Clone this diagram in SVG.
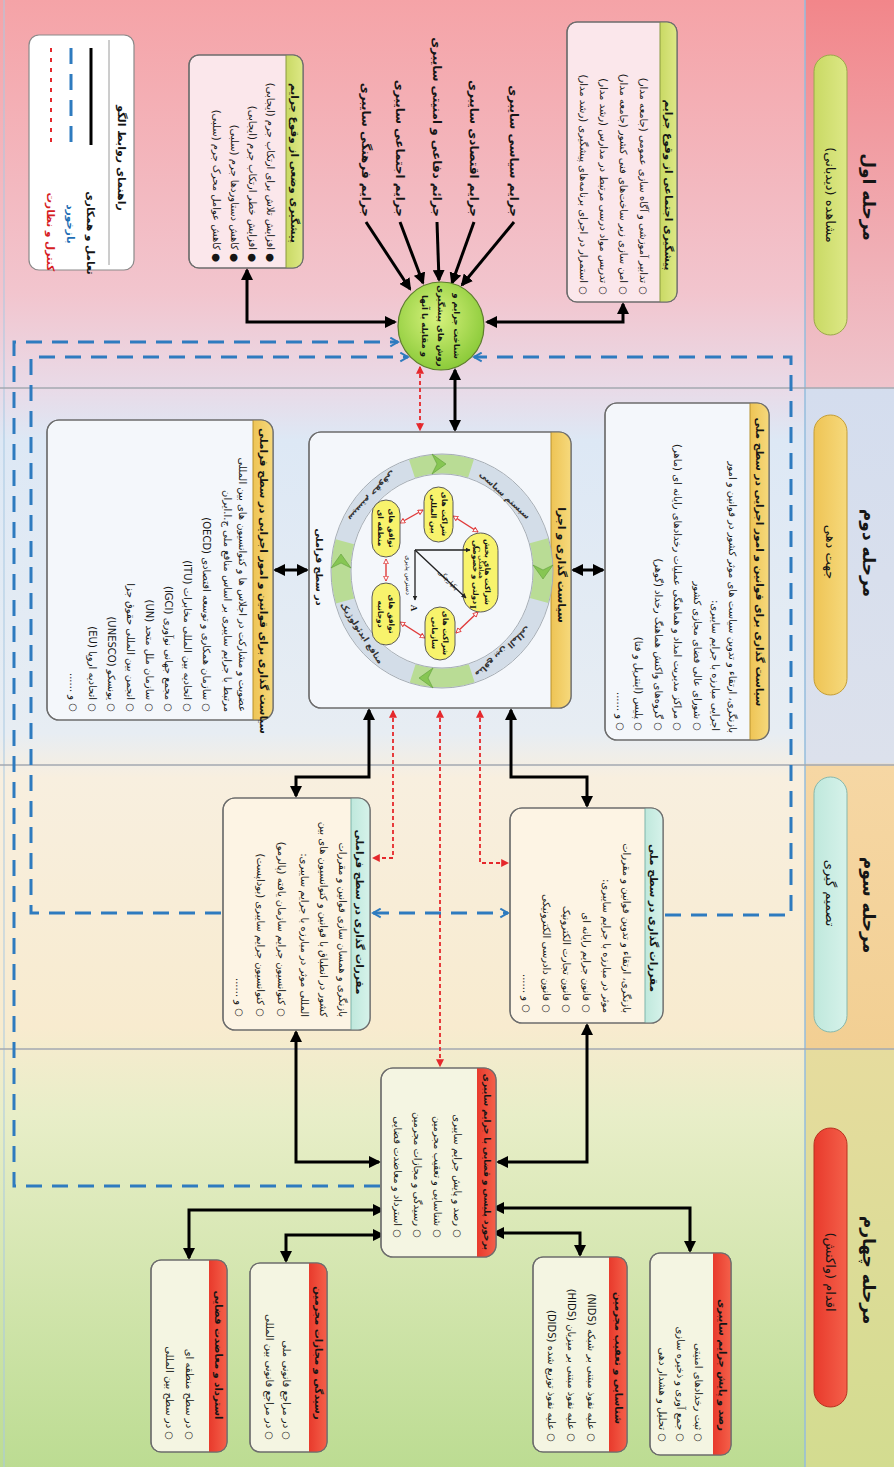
<svg xmlns="http://www.w3.org/2000/svg" width="894" height="1467" viewBox="0 0 894 1467">
<defs>
<linearGradient id="bg" x1="0" y1="0" x2="0" y2="1467" gradientUnits="userSpaceOnUse">
<stop offset="0" stop-color="#f5a3a7"/><stop offset="0.2" stop-color="#f2c5ce"/><stop offset="0.264" stop-color="#e9dae7"/><stop offset="0.3" stop-color="#dde8f5"/><stop offset="0.5" stop-color="#e7edf3"/><stop offset="0.53" stop-color="#f8efdf"/><stop offset="0.7" stop-color="#f8ebcf"/><stop offset="0.76" stop-color="#e8eec8"/><stop offset="1" stop-color="#bcdc92"/>
</linearGradient>
<linearGradient id="hd" x1="0" y1="0" x2="0" y2="1467" gradientUnits="userSpaceOnUse">
<stop offset="0" stop-color="#f2868a"/><stop offset="0.264" stop-color="#efc4cc"/><stop offset="0.265" stop-color="#d4ddee"/><stop offset="0.52" stop-color="#dce1ec"/><stop offset="0.522" stop-color="#f6d7a4"/><stop offset="0.714" stop-color="#f2cf93"/><stop offset="0.716" stop-color="#e6dc9e"/><stop offset="1" stop-color="#d3dc90"/>
</linearGradient>
<radialGradient id="cg" cx="0.45" cy="0.4" r="0.6"><stop offset="0" stop-color="#d8f27e"/><stop offset="1" stop-color="#8ccb3a"/></radialGradient>
<linearGradient id="p1" x1="0" y1="0" x2="1" y2="0"><stop offset="0" stop-color="#c9d964"/><stop offset="1" stop-color="#dde886"/></linearGradient>
<linearGradient id="p2" x1="0" y1="0" x2="1" y2="0"><stop offset="0" stop-color="#eec455"/><stop offset="1" stop-color="#f6d97c"/></linearGradient>
<linearGradient id="p3" x1="0" y1="0" x2="1" y2="0"><stop offset="0" stop-color="#bfe8dc"/><stop offset="1" stop-color="#d6f2ea"/></linearGradient>
<linearGradient id="p4" x1="0" y1="0" x2="1" y2="0"><stop offset="0" stop-color="#e83a2c"/><stop offset="1" stop-color="#f4604a"/></linearGradient>
<marker id="ab" viewBox="0 0 12 12" refX="10" refY="6" markerWidth="12" markerHeight="12" markerUnits="userSpaceOnUse" orient="auto-start-reverse"><path d="M0,0 L12,6 L0,12 z" fill="#000"/></marker>
<marker id="rr" viewBox="0 0 10 10" refX="8.5" refY="5" markerWidth="8" markerHeight="8" markerUnits="userSpaceOnUse" orient="auto-start-reverse"><path d="M0,0 L10,5 L0,10 z" fill="#e5282c"/></marker>
<marker id="bb" viewBox="0 0 10 10" refX="8.5" refY="5" markerWidth="11" markerHeight="11" markerUnits="userSpaceOnUse" orient="auto-start-reverse"><path d="M1.5,1 L8.5,5 L1.5,9" fill="none" stroke="#2e7bbf" stroke-width="1.8"/></marker>
<marker id="ra" viewBox="0 0 10 10" refX="9" refY="5" markerWidth="6" markerHeight="6" markerUnits="userSpaceOnUse" orient="auto-start-reverse"><path d="M1,1 L9,5 L1,9 z" fill="#fff" stroke="#e03a3a" stroke-width="1.5"/></marker>
<marker id="ka" viewBox="0 0 10 10" refX="9" refY="5" markerWidth="5" markerHeight="5" markerUnits="userSpaceOnUse" orient="auto"><path d="M0,0 L10,5 L0,10 z" fill="#222"/></marker>
</defs>
<style>
.t{font-family:'DejaVu Sans',sans-serif;fill:#151515;dominant-baseline:central}
.r{direction:rtl;text-anchor:start}
.m{text-anchor:middle}
.b{font-weight:bold}
.box{stroke:#6d6d6d;stroke-width:1.2}
.ol{fill:none;stroke:#6d6d6d;stroke-width:1.2}
.k{fill:none;stroke:#000;stroke-width:3;marker-start:url(#ab);marker-end:url(#ab)}
.k1{fill:none;stroke:#000;stroke-width:3;marker-end:url(#ab)}
.rd{fill:none;stroke:#e5282c;stroke-width:1.8;stroke-dasharray:4 3;marker-start:url(#rr);marker-end:url(#rr)}
.bl{fill:none;stroke:#2e7bbf;stroke-width:3;stroke-dasharray:16 10;marker-end:url(#bb)}
.pl{fill:#f8f36c;stroke:#5a5a5a;stroke-width:1}
.ra{fill:none;stroke:#e03a3a;stroke-width:1.4;marker-start:url(#ra);marker-end:url(#ra)}
.chev{fill:#86c653;stroke:#5f9e3a;stroke-width:0.6}
</style>

<g id="background">
<rect x="0" y="0" width="894" height="1467" fill="url(#bg)"/>
<rect x="805" y="0" width="89" height="1467" fill="url(#hd)"/>
<line x1="805" y1="0" x2="805" y2="1467" stroke="#94bcdc" stroke-width="1.5"/>
<line x1="4" y1="0" x2="4" y2="1467" stroke="#a9c9e2" stroke-width="1"/>
<g stroke="#a3a9b0" stroke-width="1.5">
<line x1="0" y1="388" x2="894" y2="388"/>
<line x1="0" y1="765" x2="894" y2="765"/>
<line x1="0" y1="1049" x2="894" y2="1049"/>
</g>
</g>

<g id="stage1-header">
<text class="t m b" font-size="17" transform="translate(869,197) rotate(90)">مرحله اول</text>
<rect x="814" y="55" width="33" height="280" rx="16.5" fill="url(#p1)" stroke="#9aa84a"/>
<text class="t m" font-size="13" transform="translate(830,195) rotate(90)">مشاهده (دیدبانی)</text>
</g>
<g id="stage2-header">
<text class="t m b" font-size="17" transform="translate(869,553) rotate(90)">مرحله دوم</text>
<rect x="814" y="415" width="33" height="280" rx="16.5" fill="url(#p2)" stroke="#c49d35"/>
<text class="t m" font-size="13" transform="translate(830,552) rotate(90)">جهت دهی</text>
</g>
<g id="stage3-header">
<text class="t m b" font-size="17" transform="translate(869,905) rotate(90)">مرحله سوم</text>
<rect x="814" y="777" width="33" height="255" rx="16.5" fill="url(#p3)" stroke="#86b8ad"/>
<text class="t m" font-size="13" transform="translate(830,893) rotate(90)">تصمیم گیری</text>
</g>
<g id="stage4-header">
<text class="t m b" font-size="17" transform="translate(869,1270) rotate(90)">مرحله چهارم</text>
<rect x="814" y="1128" width="33" height="279" rx="16.5" fill="url(#p4)" stroke="#b8301f"/>
<text class="t m" font-size="13" transform="translate(830,1272) rotate(90)">اقدام (واکنش)</text>
</g>

<g id="connectors">
<path class="k" d="M623,304 V322 H487"/>
<path class="k" d="M247,270 V322 H395"/>
<path class="k1" d="M514,222 L462,285"/>
<path class="k1" d="M474,222 L452,283"/>
<path class="k1" d="M437,222 L439,280"/>
<path class="k1" d="M400,222 L423,283"/>
<path class="k1" d="M366,222 L410,289"/>
<path class="k" d="M455,370 V430"/>
<path class="k" d="M573,570 H603"/>
<path class="k" d="M275,570 H307"/>
<path class="k" d="M369,710 V777 H296 V796"/>
<path class="k" d="M511,710 V777 H587 V806"/>
<path class="k" d="M296,1032 V1162 H379"/>
<path class="k" d="M587,1025 V1162 H498"/>
<path class="k" d="M383,1210 H189 V1258"/>
<path class="k" d="M383,1235 H286 V1261"/>
<path class="k" d="M494,1208 H690 V1251"/>
<path class="k" d="M494,1233 H580 V1255"/>
<path class="rd" d="M420,367 V430"/>
<path class="rd" d="M393,711 V858 H373"/>
<path class="rd" d="M480,711 V863 H508"/>
<path class="rd" d="M440,711 V1066"/>
<path class="bl" d="M380,1186 H14 V342 H398"/>
<path class="bl" d="M221,913 H31 V357 H408"/>
<path class="bl" d="M665,915 H791 V357 H474"/>
<path class="bl" style="marker-start:url(#bb)" d="M373,913 H508"/>
</g>

<g id="legend">
<rect x="29" y="35" width="105" height="235" rx="10" fill="#fff" stroke="#8a8a8a" stroke-width="1.2"/>
<line x1="109" y1="40" x2="109" y2="265" stroke="#9a9a9a" stroke-width="1"/>
<text class="t m b" font-size="11" transform="translate(121,158) rotate(90)">راهنمای روابط الگو</text>
<line x1="91" y1="48" x2="91" y2="145" stroke="#000" stroke-width="3"/>
<line x1="71" y1="48" x2="71" y2="145" stroke="#2e7bbf" stroke-width="3" stroke-dasharray="16 10"/>
<line x1="51" y1="48" x2="51" y2="145" stroke="#e5282c" stroke-width="2" stroke-dasharray="4 6"/>
<text class="t m b" font-size="10.5" transform="translate(91,233) rotate(90)">تعامل و همکاری</text>
<text class="t m b" font-size="10.5" style="fill:#1f6fb5" transform="translate(71,224) rotate(90)">بازخورد</text>
<text class="t m b" font-size="10.5" style="fill:#d6201f" transform="translate(51,232) rotate(90)">کنترل و نظارت</text>
</g>

<g id="social-prevention">
<rect class="box" x="567" y="22" width="110" height="280" rx="10" fill="#fbe7eb"/>
<path d="M660,22 H667 A10,10 0 0 1 677,32 V292 A10,10 0 0 1 667,302 H660 Z" fill="url(#p1)"/>
<line x1="660" y1="22" x2="660" y2="302" stroke="#8a9a40" stroke-width="1"/>
<rect class="ol" x="567" y="22" width="110" height="280" rx="10"/>
<text class="t m b" font-size="10.5" transform="translate(669,185) rotate(90)">پیشگیری اجتماعی از وقوع جرایم</text>
<text class="t r" font-size="10" transform="translate(643,295) rotate(90)">○ تدابیر آموزشی و آگاه سازی عمومی (جامعه مدار)</text>
<text class="t r" font-size="10" transform="translate(623,295) rotate(90)">○ امن سازی زیر ساخت‌های فنی کشور (جامعه مدار)</text>
<text class="t r" font-size="10" transform="translate(603,295) rotate(90)">○ تدریس مواد درسی مرتبط در مدارس (رشد مدار)</text>
<text class="t r" font-size="10" transform="translate(583,295) rotate(90)">○ استمرار در اجرای برنامه‌های پیشگیری (رشد مدار)</text>
</g>

<g id="situational-prevention">
<rect class="box" x="189" y="55" width="114" height="213" rx="10" fill="#fbe7eb"/>
<path d="M286,55 H293 A10,10 0 0 1 303,65 V258 A10,10 0 0 1 293,268 H286 Z" fill="url(#p1)"/>
<line x1="286" y1="55" x2="286" y2="268" stroke="#8a9a40" stroke-width="1"/>
<rect class="ol" x="189" y="55" width="114" height="213" rx="10"/>
<text class="t m b" font-size="10.5" transform="translate(295,163) rotate(90)">پیشگیری وضعی از وقوع جرایم</text>
<text class="t r" font-size="10" transform="translate(270,262) rotate(90)">● افزایش تلاش برای ارتکاب جرم (ایجابی)</text>
<text class="t r" font-size="10" transform="translate(252,262) rotate(90)">● افزایش خطر ارتکاب جرم (ایجابی)</text>
<text class="t r" font-size="10" transform="translate(234,262) rotate(90)">● کاهش دستاوردها جرم (سلبی)</text>
<text class="t r" font-size="10" transform="translate(216,262) rotate(90)">● کاهش عوامل محرک جرم (سلبی)</text>
</g>

<g id="crime-labels">
<text class="t r b" font-size="12" transform="translate(514,217) rotate(90)">جرایم سیاسی سایبری</text>
<text class="t r b" font-size="12" transform="translate(474,217) rotate(90)">جرایم اقتصادی سایبری</text>
<text class="t r b" font-size="12" transform="translate(437,217) rotate(90)">جرائم دفاعی و امنیتی سایبری</text>
<text class="t r b" font-size="12" transform="translate(400,217) rotate(90)">جرایم اجتماعی سایبری</text>
<text class="t r b" font-size="12" transform="translate(366,217) rotate(90)">جرایم فرهنگی سایبری</text>
</g>

<g id="recognition-circle">
<ellipse cx="441" cy="326" rx="43" ry="44" fill="url(#cg)" stroke="#5d7d2c" stroke-width="1.2"/>
<text class="t m b" font-size="8.5" transform="translate(457,326) rotate(90)">شناخت جرایم و</text>
<text class="t m b" font-size="8.5" transform="translate(441,326) rotate(90)">روش های پیشگیری</text>
<text class="t m b" font-size="8.5" transform="translate(425,326) rotate(90)">و مقابله با آنها</text>
</g>

<g id="national-policy">
<rect class="box" x="605" y="403" width="164" height="337" rx="12" fill="#f4f7fb"/>
<path d="M750,403 H757 A12,12 0 0 1 769,415 V728 A12,12 0 0 1 757,740 H750 Z" fill="url(#p2)"/>
<line x1="750" y1="403" x2="750" y2="740" stroke="#b8922e" stroke-width="1"/>
<rect class="ol" x="605" y="403" width="164" height="337" rx="12"/>
<text class="t m b" font-size="10.5" transform="translate(760,562) rotate(90)">سیاست گذاری برای قوانین و امور اجرایی در سطح ملی</text>
<text class="t r" font-size="10" transform="translate(732,733) rotate(90)">بازنگری، ارتقاء و تدوین سیاست های موثر کشور در قوانین و امور</text>
<text class="t r" font-size="10" transform="translate(715,731) rotate(90)">اجرایی مبارزه با جرایم سایبری:</text>
<text class="t r" font-size="10" transform="translate(697,731) rotate(90)">○ شورای عالی فضای مجازی کشور</text>
<text class="t r" font-size="10" transform="translate(677,731) rotate(90)">○ مراکز مدیریت امداد و هماهنگی عملیات رخدادهای رایانه ای (ماهر)</text>
<text class="t r" font-size="10" transform="translate(658,731) rotate(90)">○ گروه‌های واکنش هماهنگ رخداد (گوهر)</text>
<text class="t r" font-size="10" transform="translate(638,731) rotate(90)">○ پلیس (اینترپل و فتا)</text>
<text class="t r" font-size="10" transform="translate(620,731) rotate(90)">○ و ......</text>
</g>

<g id="transnational-policy">
<rect class="box" x="47" y="420" width="226" height="300" rx="12" fill="#f4f7fb"/>
<path d="M253,420 H261 A12,12 0 0 1 273,432 V708 A12,12 0 0 1 261,720 H253 Z" fill="url(#p2)"/>
<line x1="253" y1="420" x2="253" y2="720" stroke="#b8922e" stroke-width="1"/>
<rect class="ol" x="47" y="420" width="226" height="300" rx="12"/>
<text class="t m b" font-size="10.5" transform="translate(264,581) rotate(90)">سیاست گذاری برای قوانین و امور اجرایی در سطح فراملی</text>
<text class="t r" font-size="10" transform="translate(242,712) rotate(90)">عضویت و مشارکت در اجلاس ها و کنوانسیون های بین المللی</text>
<text class="t r" font-size="10" transform="translate(227,712) rotate(90)">مرتبط با جرایم سایبری بر اساس منافع ملی ج.ا.ایران</text>
<text class="t r" font-size="10" transform="translate(206,712) rotate(90)">○ سازمان همکاری و توسعه اقتصادی (OECD)</text>
<text class="t r" font-size="10" transform="translate(187,712) rotate(90)">○ اتحادیه بین المللی مخابرات (ITU)</text>
<text class="t r" font-size="10" transform="translate(168,712) rotate(90)">○ مجمع جهانی نوآوری (IGCI)</text>
<text class="t r" font-size="10" transform="translate(149,712) rotate(90)">○ سازمان ملل متحد (UN)</text>
<text class="t r" font-size="10" transform="translate(130,712) rotate(90)">○ انجمن بین المللی حقوق جزا</text>
<text class="t r" font-size="10" transform="translate(111,712) rotate(90)">○ یونسکو (UNESCO)</text>
<text class="t r" font-size="10" transform="translate(92,712) rotate(90)">○ اتحادیه اروپا (EU)</text>
<text class="t r" font-size="10" transform="translate(73,712) rotate(90)">○ و ......</text>
</g>

<g id="policy-execution">
<rect class="box" x="309" y="432" width="262" height="276" rx="12" fill="#f4f7fb"/>
<path d="M551,432 H559 A12,12 0 0 1 571,444 V696 A12,12 0 0 1 559,708 H551 Z" fill="url(#p2)"/>
<line x1="551" y1="432" x2="551" y2="708" stroke="#b8922e" stroke-width="1"/>
<rect class="ol" x="309" y="432" width="262" height="276" rx="12"/>
<text class="t m b" font-size="11" transform="translate(561,565) rotate(90)">سیاست گذاری و اجرا</text>
<text class="t m b" font-size="9.5" transform="translate(540,565) rotate(90)">در سطح ملی</text>
<text class="t m b" font-size="9.5" transform="translate(319,567) rotate(90)">در سطح فراملی</text>
<ellipse cx="442" cy="571" rx="101" ry="107" fill="none" stroke="#d3dde8" stroke-width="19"/>
<ellipse cx="442" cy="571" rx="101" ry="107" fill="none" stroke="#b9dc95" stroke-width="19" stroke-dasharray="60 103" stroke-dashoffset="30"/>
<ellipse cx="442" cy="571" rx="111" ry="117" fill="none" stroke="#a5adb5" stroke-width="1"/>
<ellipse cx="442" cy="571" rx="91" ry="97" fill="none" stroke="#a5adb5" stroke-width="1"/>
<path class="chev" transform="translate(440,464)" d="M-8,-10 L6,0 L-8,10 L-3,0 Z"/>
<path class="chev" transform="translate(543,573) rotate(90)" d="M-8,-10 L6,0 L-8,10 L-3,0 Z"/>
<path class="chev" transform="translate(425,678) rotate(180)" d="M-8,-10 L6,0 L-8,10 L-3,0 Z"/>
<path class="chev" transform="translate(341,560) rotate(270)" d="M-8,-10 L6,0 L-8,10 L-3,0 Z"/>
<text class="t m b" font-size="8.5" style="fill:#333" transform="translate(505,495) rotate(43)">سیستم سیاسی</text>
<text class="t m b" font-size="8.5" style="fill:#333" transform="translate(503,652) rotate(138)">منافع بین المللی</text>
<text class="t m b" font-size="8.5" style="fill:#333" transform="translate(362,633) rotate(57)">منافع ایدئولوژیک</text>
<text class="t m b" font-size="8.5" style="fill:#333" transform="translate(372,496) rotate(133)">سیستم حقوقی</text>
<path class="ra" d="M453,516 L478,532"/>
<path class="ra" d="M478,612 L456,633"/>
<path class="ra" d="M425,638 L400,622"/>
<path class="ra" d="M386,559 L386,581"/>
<path class="ra" d="M400,523 L423,510"/>
<rect class="pl" x="463" y="533" width="35" height="79" rx="17.5"/>
<rect class="pl" x="424" y="487" width="29" height="55" rx="14.5"/>
<rect class="pl" x="372" y="500" width="28" height="57" rx="14"/>
<rect class="pl" x="372" y="583" width="28" height="62" rx="14"/>
<rect class="pl" x="425" y="607" width="30" height="53" rx="15"/>
<text class="t m b" font-size="7.5" transform="translate(487,572) rotate(90)">شراکت های بخش</text>
<text class="t m b" font-size="7.5" transform="translate(475,572) rotate(90)">دولتی و خصوصی</text>
<text class="t m b" font-size="7.5" transform="translate(444,514) rotate(90)">شراکت های</text>
<text class="t m b" font-size="7.5" transform="translate(433,514) rotate(90)">بین المللی</text>
<text class="t m b" font-size="7.5" transform="translate(391,528) rotate(90)">توافق های</text>
<text class="t m b" font-size="7.5" transform="translate(380,528) rotate(90)">منطقه ای</text>
<text class="t m b" font-size="7.5" transform="translate(391,614) rotate(90)">توافق های</text>
<text class="t m b" font-size="7.5" transform="translate(380,614) rotate(90)">دوجانبه</text>
<text class="t m b" font-size="7.5" transform="translate(445,633) rotate(90)">شراکت های</text>
<text class="t m b" font-size="7.5" transform="translate(434,633) rotate(90)">سازمانی</text>
<path d="M415,550 H470" stroke="#222" stroke-width="1.3" marker-end="url(#ka)"/>
<path d="M415,550 V600" stroke="#222" stroke-width="1.3" marker-end="url(#ka)"/>
<path d="M415,550 L466,598" stroke="#222" stroke-width="1.3" marker-end="url(#ka)"/>
<text class="t m b" font-size="9" style="font-family:'Liberation Serif',serif" transform="translate(477,549) rotate(90)">C</text>
<text class="t m b" font-size="9" style="font-family:'Liberation Serif',serif" transform="translate(473,607) rotate(90)">I</text>
<text class="t m b" font-size="9" style="font-family:'Liberation Serif',serif" transform="translate(414,608) rotate(90)">A</text>
<text class="t m" font-size="6.5" transform="translate(481,567) rotate(90)">هماهنگی</text>
<text class="t m" font-size="6.5" transform="translate(448,580) rotate(45)">یکپارچگی</text>
<text class="t m" font-size="6.5" transform="translate(408,575) rotate(90)">دسترس پذیری</text>
</g>

<g id="national-regulation">
<rect class="box" x="510" y="808" width="153" height="215" rx="12" fill="#fdf4e4"/>
<path d="M645,808 H651 A12,12 0 0 1 663,820 V1011 A12,12 0 0 1 651,1023 H645 Z" fill="url(#p3)"/>
<line x1="645" y1="808" x2="645" y2="1023" stroke="#7fb5ab" stroke-width="1"/>
<rect class="ol" x="510" y="808" width="153" height="215" rx="12"/>
<text class="t m b" font-size="10.5" transform="translate(654,918) rotate(90)">مقررات گذاری در سطح ملی</text>
<text class="t r" font-size="10" transform="translate(626,1013) rotate(90)">بازنگری، ارتقاء و تدوین قوانین و مقررات</text>
<text class="t r" font-size="10" transform="translate(606,1013) rotate(90)">موثر در مبارزه با جرایم سایبری:</text>
<text class="t r" font-size="10" transform="translate(586,1013) rotate(90)">○ قانون جرایم رایانه ای</text>
<text class="t r" font-size="10" transform="translate(566,1013) rotate(90)">○ قانون تجارت الکترونیک</text>
<text class="t r" font-size="10" transform="translate(546,1013) rotate(90)">○ قانون دادرسی الکترونیکی</text>
<text class="t r" font-size="10" transform="translate(526,1013) rotate(90)">○ و ......</text>
</g>

<g id="transnational-regulation">
<rect class="box" x="223" y="798" width="147" height="232" rx="12" fill="#fdf4e4"/>
<path d="M351,798 H358 A12,12 0 0 1 370,810 V1018 A12,12 0 0 1 358,1030 H351 Z" fill="url(#p3)"/>
<line x1="351" y1="798" x2="351" y2="1030" stroke="#7fb5ab" stroke-width="1"/>
<rect class="ol" x="223" y="798" width="147" height="232" rx="12"/>
<text class="t m b" font-size="10.5" transform="translate(360,912) rotate(90)">مقررات گذاری در سطح فراملی</text>
<text class="t r" font-size="10" transform="translate(342,1017) rotate(90)">بازنگری و همسان سازی قوانین و مقررات</text>
<text class="t r" font-size="10" transform="translate(323,1017) rotate(90)">کشور در انطباق با قوانین و کنوانسیون های بین</text>
<text class="t r" font-size="10" transform="translate(304,1017) rotate(90)">المللی موثر در مبارزه با جرایم سایبری:</text>
<text class="t r" font-size="10" transform="translate(281,1017) rotate(90)">○ کنوانسیون جرایم سازمان یافته (پالرمو)</text>
<text class="t r" font-size="10" transform="translate(260,1017) rotate(90)">○ کنوانسیون جرایم سایبری (بوداپست)</text>
<text class="t r" font-size="10" transform="translate(239,1017) rotate(90)">○ و ......</text>
</g>

<g id="police-judicial">
<rect class="box" x="381" y="1068" width="115" height="189" rx="12" fill="#f4f5e2"/>
<path d="M477,1068 H484 A12,12 0 0 1 496,1080 V1245 A12,12 0 0 1 484,1257 H477 Z" fill="url(#p4)"/>
<rect class="ol" x="381" y="1068" width="115" height="189" rx="12"/>
<text class="t m b" font-size="8.8" transform="translate(487,1162) rotate(90)">برخورد پلیسی و قضایی با جرایم سایبری</text>
<text class="t r" font-size="10" transform="translate(457,1238) rotate(90)">○ رصد و پایش جرایم سایبری</text>
<text class="t r" font-size="10" transform="translate(437,1238) rotate(90)">○ شناسایی و تعقیب مجرمین</text>
<text class="t r" font-size="10" transform="translate(417,1238) rotate(90)">○ رسیدگی و مجازات مجرمین</text>
<text class="t r" font-size="10" transform="translate(397,1238) rotate(90)">○ استرداد و معاضدت قضایی</text>
</g>

<g id="monitoring">
<rect class="box" x="650" y="1253" width="81" height="202" rx="10" fill="#f4f5e2"/>
<path d="M713,1253 H721 A10,10 0 0 1 731,1263 V1445 A10,10 0 0 1 721,1455 H713 Z" fill="url(#p4)"/>
<rect class="ol" x="650" y="1253" width="81" height="202" rx="10"/>
<text class="t m b" font-size="10" transform="translate(722,1365) rotate(90)">رصد و پایش جرایم سایبری</text>
<text class="t r" font-size="10" transform="translate(698,1442) rotate(90)">○ ثبت رخدادهای امنیتی</text>
<text class="t r" font-size="10" transform="translate(680,1442) rotate(90)">○ جمع آوری و ذخیره سازی</text>
<text class="t r" font-size="10" transform="translate(662,1442) rotate(90)">○ تحلیل و هشدار دهی</text>
</g>

<g id="detection">
<rect class="box" x="533" y="1257" width="94" height="195" rx="10" fill="#f4f5e2"/>
<path d="M609,1257 H617 A10,10 0 0 1 627,1267 V1442 A10,10 0 0 1 617,1452 H609 Z" fill="url(#p4)"/>
<rect class="ol" x="533" y="1257" width="94" height="195" rx="10"/>
<text class="t m b" font-size="10" transform="translate(618,1358) rotate(90)">شناسایی و تعقیب مجرمین</text>
<text class="t r" font-size="10" transform="translate(591,1442) rotate(90)">○ علیه نفوذ مبتنی بر شبکه (NIDS)</text>
<text class="t r" font-size="10" transform="translate(571,1442) rotate(90)">○ علیه نفوذ مبتنی بر میزبان (HIDS)</text>
<text class="t r" font-size="10" transform="translate(551,1442) rotate(90)">○ علیه نفوذ توزیع شده (DIDS)</text>
</g>

<g id="prosecution">
<rect class="box" x="250" y="1263" width="77" height="189" rx="10" fill="#f4f5e2"/>
<path d="M309,1263 H317 A10,10 0 0 1 327,1273 V1442 A10,10 0 0 1 317,1452 H309 Z" fill="url(#p4)"/>
<rect class="ol" x="250" y="1263" width="77" height="189" rx="10"/>
<text class="t m b" font-size="10" transform="translate(318,1353) rotate(90)">رسیدگی و مجازات مجرمین</text>
<text class="t r" font-size="10" transform="translate(286,1440) rotate(90)">○ در مراجع قانونی ملی</text>
<text class="t r" font-size="10" transform="translate(269,1440) rotate(90)">○ در مراجع قانونی بین المللی</text>
</g>

<g id="extradition">
<rect class="box" x="151" y="1260" width="76" height="192" rx="10" fill="#f4f5e2"/>
<path d="M209,1260 H217 A10,10 0 0 1 227,1270 V1442 A10,10 0 0 1 217,1452 H209 Z" fill="url(#p4)"/>
<rect class="ol" x="151" y="1260" width="76" height="192" rx="10"/>
<text class="t m b" font-size="10" transform="translate(218,1355) rotate(90)">استرداد و معاضدت قضایی</text>
<text class="t r" font-size="10" transform="translate(189,1440) rotate(90)">○ در سطح منطقه ای</text>
<text class="t r" font-size="10" transform="translate(169,1440) rotate(90)">○ در سطح بین المللی</text>
</g>
</svg>
